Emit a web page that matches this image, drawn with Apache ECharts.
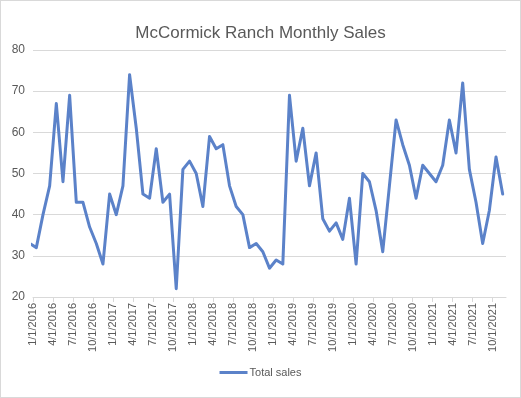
<!DOCTYPE html>
<html>
<head>
<meta charset="utf-8">
<script src="https://cdn.jsdelivr.net/npm/echarts@6/dist/echarts.min.js"></script>
<style>
html,body{margin:0;padding:0;background:#fff;}
#c{width:519px;height:396px;border:1px solid #d9d9d9;}
</style>
</head>
<body>
<div id="c"></div>
<script>
// Monthly points (year-month of each sale total); points sit mid-month on a date axis
const months = [
 '2015-12',
 '2016-01','2016-02','2016-03','2016-04','2016-05','2016-06','2016-07','2016-08','2016-09','2016-10','2016-11','2016-12',
 '2017-01','2017-02','2017-03','2017-04','2017-05','2017-06','2017-07','2017-08','2017-09','2017-10','2017-11','2017-12',
 '2018-01','2018-02','2018-03','2018-04','2018-05','2018-06','2018-07','2018-08','2018-09','2018-10','2018-11','2018-12',
 '2019-01','2019-02','2019-03','2019-04','2019-05','2019-06','2019-07','2019-08','2019-09','2019-10','2019-11','2019-12',
 '2020-01','2020-02','2020-03','2020-04','2020-05','2020-06','2020-07','2020-08','2020-09','2020-10','2020-11','2020-12',
 '2021-01','2021-02','2021-03','2021-04','2021-05','2021-06','2021-07','2021-08','2021-09','2021-10','2021-11'
];
const totalSales = [
 33,
 32,40,47,67,48,69,43,43,37,33,28,45,
 40,47,74,61,45,44,56,43,45,22,51,53,
 50,42,59,56,57,47,42,40,32,33,31,27,
 29,28,69,53,61,47,55,39,36,38,34,44,
 28,50,48,41,31,47,63,57,52,44,52,50,
 48,52,63,55,72,51,43,33,41,54,45
];
const tickLabels = [
 '1/1/2016','4/1/2016','7/1/2016','10/1/2016',
 '1/1/2017','4/1/2017','7/1/2017','10/1/2017',
 '1/1/2018','4/1/2018','7/1/2018','10/1/2018',
 '1/1/2019','4/1/2019','7/1/2019','10/1/2019',
 '1/1/2020','4/1/2020','7/1/2020','10/1/2020',
 '1/1/2021','4/1/2021','7/1/2021','10/1/2021'
];
const seriesName = 'Total sales';
const titleText = 'McCormick Ranch Monthly Sales';

// months since Jan 2016 (mid-month)
function monthPos(s){ const p = s.split('-'); return (parseInt(p[0])-2016)*12 + (parseInt(p[1])-1) + 0.5; }
const seriesData = months.map((m,i)=>[monthPos(m), totalSales[i]]);

const chart = echarts.init(document.getElementById('c'));
const txt = '#595959';
const gridCol = '#d9d9d9';
chart.setOption({
  animation:false,
  title:{text:titleText,left:'center',top:19,textStyle:{fontFamily:'Liberation Sans',fontSize:17,fontWeight:'normal',color:txt}},
  legend:{bottom:14,left:'center',icon:'rect',itemWidth:28,itemHeight:3,itemGap:10,
    textStyle:{fontFamily:'Liberation Sans',fontSize:11,color:txt,padding:[0,0,0,-3]},data:[seriesName]},
  grid:{left:32,right:14,top:49,bottom:100},
  xAxis:{type:'value',min:0,max:71,interval:3,
    axisLine:{show:true,lineStyle:{color:gridCol}},
    axisTick:{show:true,length:5,lineStyle:{color:gridCol}},
    splitLine:{show:false},
    axisLabel:{rotate:90,margin:6,fontFamily:'Liberation Sans',fontSize:11,color:txt,showMaxLabel:false,
      formatter:v=>{const i=Math.round(v/3); return (v%3===0 && i<tickLabels.length)?tickLabels[i]:'';}}
  },
  yAxis:{type:'value',min:20,max:80,interval:10,
    axisLine:{show:false},axisTick:{show:false},
    splitLine:{lineStyle:{color:gridCol}},
    axisLabel:{margin:8,fontFamily:'Liberation Sans',fontSize:12,color:txt}},
  series:[{name:seriesName,type:'line',data:seriesData,showSymbol:false,clip:true,
    lineStyle:{color:'#5b82c9',width:3,cap:'round',join:'round'},itemStyle:{color:'#5b82c9'}}]
});
</script>
</body>
</html>
